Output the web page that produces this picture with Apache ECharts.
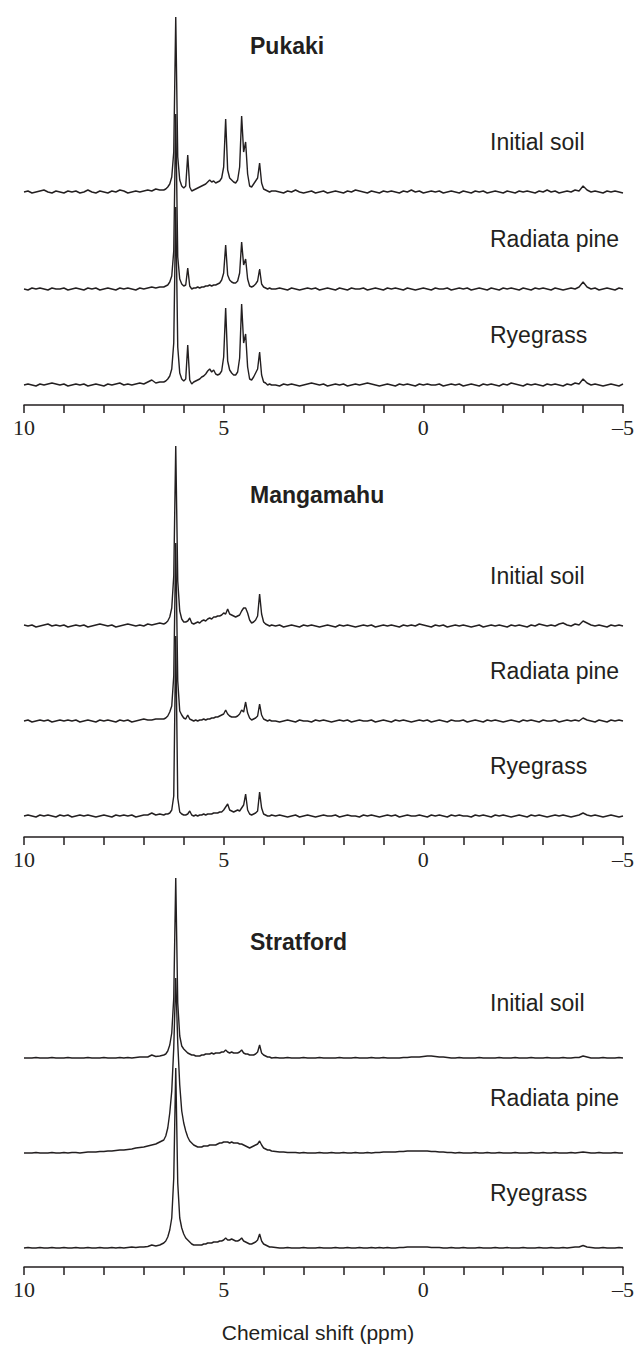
<!DOCTYPE html>
<html><head><meta charset="utf-8">
<script src="https://cdn.jsdelivr.net/npm/echarts@6/dist/echarts.min.js"></script>
<style>html,body{margin:0;padding:0;background:#fff}#c{width:637px;height:1347px}</style>
</head><body><div id="c"></div>
<script>
// ---------------- DATA ----------------
const panelNames = ['Pukaki', 'Mangamahu', 'Stratford'];
const sampleNames = ['Initial soil', 'Radiata pine', 'Ryegrass'];
const xTickLabels = [10, 5, 0, -5];
const axisTitle = 'Chemical shift (ppm)';

// chemical shift sample points (ppm): 10.0-6.6 | 6.5-3.8 | 3.7-(-5.0)
const ppm = [
  10.0,9.9,9.8,9.7,9.6,9.5,9.4,9.3,9.2,9.1, 9.0,8.9,8.8,8.7,8.6,8.5,8.4,8.3,8.2,8.1,
  8.0,7.9,7.8,7.7,7.6,7.5,7.4,7.3,7.2,7.1, 7.0,6.9,6.8,6.7,6.6,

  6.5,6.45,6.4,6.35,6.3,6.25,6.2,6.15,6.1,6.05, 6.0,5.95,5.9,5.85,5.8,5.75,5.7,5.65,5.6,5.55,
  5.5,5.45,5.4,5.35,5.3,5.25,5.2,5.15,5.1,5.05, 5.0,4.95,4.9,4.85,4.8,4.75,4.7,4.65,4.6,4.55,
  4.5,4.45,4.4,4.35,4.3,4.25,4.2,4.15,4.1,4.05, 4.0,3.95,3.9,3.85,3.8,

  3.7,3.6,3.5,3.4,3.3,3.2,3.1,3.0,2.9,2.8, 2.7,2.6,2.5,2.4,2.3,2.2,2.1,2.0,1.9,1.8,
  1.7,1.6,1.5,1.4,1.3,1.2,1.1,1.0,0.9,0.8, 0.7,0.6,0.5,0.4,0.3,0.2,0.1,0.0,-0.1,-0.2,
  -0.3,-0.4,-0.5,-0.6,-0.7,-0.8,-0.9,-1.0,-1.1,-1.2, -1.3,-1.4,-1.5,-1.6,-1.7,-1.8,-1.9,-2.0,-2.1,-2.2,
  -2.3,-2.4,-2.5,-2.6,-2.7,-2.8,-2.9,-3.0,-3.1,-3.2, -3.3,-3.4,-3.5,-3.6,-3.7,-3.8,-3.9,-4.0,-4.1,-4.2,
  -4.3,-4.4,-4.5,-4.6,-4.7,-4.8,-4.9,-5.0
];

// intensities (relative units), same order as ppm
const pukakiInitial = [
  0,1,-1,0,1,2,0,-1,1,0, -1,1,0,1,-1,0,2,0,-1,1, 0,-1,1,0,2,1,-1,0,1,0, 1,2,1,3,2,
  2,3,5,8,15,40,175,35,12,6, 4,6,37,5,1,2,3,4,5,6, 7,8,10,12,10,11,9,10,11,14,
  25,73,22,14,12,10,9,12,25,76, 40,50,18,6,5,8,11,14,29,9, 3,2,1,0,1,
  1,0,-1,1,0,2,0,-1,0,1, -1,0,1,-1,0,1,0,-1,1,0, 2,1,0,-1,1,0,-1,1,0,1, 0,-1,1,0,2,0,1,-1,0,1,
  0,1,-1,0,1,0,-1,1,0,-1, 1,0,1,-1,0,1,0,-1,1,0, -1,1,0,1,0,-1,1,0,2,0, 1,-1,0,1,0,2,1,6,2,0,
  1,0,-1,1,0,1,0,-1
];
const pukakiRadiata = [
  0,-1,1,0,1,0,-1,1,0,0, 1,-1,0,1,0,-1,1,0,1,-1, 0,1,0,-1,1,0,1,0,-1,1, 0,1,2,1,2,
  2,3,4,7,13,38,175,32,10,5, 3,4,21,3,0,1,1,2,1,2, 2,3,3,4,3,4,4,5,6,9,
  16,44,14,9,7,6,6,8,16,47, 24,30,10,3,2,3,5,8,20,5, 2,1,0,1,0,
  0,1,0,-1,1,0,-1,0,1,0, 1,-1,0,1,0,-1,1,0,-1,1, 0,0,1,-1,0,1,0,-1,1,0, 1,0,-1,1,0,-1,0,1,0,-1,
  1,0,0,1,-1,0,1,0,1,-1, 0,1,0,-1,1,0,-1,1,0,1, 0,-1,1,0,-1,1,0,1,0,-1, 1,0,-1,0,1,0,2,7,2,0,
  1,-1,0,1,0,-1,1,0
];
const pukakiRyegrass = [
  0,1,0,-1,1,0,1,2,1,0, 1,-1,0,1,0,1,-1,0,1,0, -1,1,0,1,2,0,1,0,1,2, 1,3,5,2,3,
  3,4,6,9,16,42,178,38,12,6, 4,6,40,5,1,3,4,5,6,8, 9,11,14,16,13,15,11,10,11,14,
  28,77,24,15,12,10,10,13,27,81, 42,51,18,6,5,8,12,16,33,10, 3,2,0,1,0,
  0,-1,1,0,1,0,-1,0,1,2, 1,0,1,-1,0,1,0,1,-1,0, 1,0,1,2,1,0,-1,0,1,0, -1,1,0,1,0,-1,1,0,1,0,
  0,1,-1,0,1,0,1,-1,0,1, 0,-1,1,0,1,0,-1,1,0,2, 1,0,-1,1,0,1,0,-1,1,0, 1,0,-1,1,0,2,1,6,2,0,
  1,0,-1,0,1,0,-1,1
];
const mangamahuInitial = [
  1,0,1,-1,0,1,2,0,1,0, 1,-1,0,1,0,1,-1,0,1,2, 1,0,1,-1,0,1,2,1,0,1, 0,2,1,2,3,
  2,3,5,9,18,50,180,45,15,7, 4,4,5,8,3,2,3,4,3,5, 6,5,7,8,7,9,9,10,10,11,
  13,12,17,12,11,10,9,10,11,15, 18,18,13,6,3,4,6,10,32,12, 4,2,1,0,1,
  0,1,-1,0,1,0,-1,1,0,1, 0,-1,0,1,0,-1,1,0,1,0, -1,0,1,0,1,-1,0,1,0,1, 0,-1,1,0,1,0,2,1,0,-1,
  1,0,1,-1,0,1,0,1,0,-1, 0,1,-1,0,1,0,1,0,-1,1, 0,1,0,-1,1,0,2,1,0,1, 0,2,3,1,0,2,1,5,3,1,
  0,1,0,-1,1,0,1,0
];
const mangamahuRadiata = [
  0,1,-1,0,1,0,1,-1,0,1, 0,1,0,1,-1,0,1,0,-1,1, 0,1,0,-1,1,0,1,-1,0,1, 2,1,1,2,2,
  2,3,5,9,15,45,178,40,10,6, 3,2,6,2,1,0,1,0,1,1, 2,1,2,2,3,3,4,4,5,6,
  7,11,7,5,4,4,4,5,7,11, 9,19,8,3,1,2,3,5,17,6, 2,1,0,1,0,
  0,-1,0,1,0,-1,1,0,0,-1, 1,0,1,0,-1,0,1,0,1,-1, 0,1,0,0,1,-1,0,1,0,-1, 1,0,1,0,-1,0,1,0,1,-1,
  0,1,0,-1,1,0,0,1,-1,0, 1,0,-1,1,0,1,0,-1,0,1, 0,-1,1,0,1,0,-1,1,0,0, 1,-1,0,1,0,1,0,3,1,0,
  -1,1,0,-1,1,0,1,0
];
const mangamahuRyegrass = [
  0,1,0,-1,1,0,1,0,-1,1, 0,1,-1,0,1,0,1,0,-1,0, 1,0,-1,1,0,1,0,1,-1,0, 1,1,3,1,2,
  1,2,2,3,6,20,180,18,4,2, 1,1,2,5,1,0,1,0,1,1, 2,1,2,2,2,3,3,3,4,4,
  6,9,12,6,5,4,5,6,5,8, 11,22,6,2,1,2,3,5,24,8, 2,1,0,0,1,
  0,1,0,-1,0,1,-1,0,1,0, -1,0,1,0,0,1,-1,0,1,0, 0,-1,1,0,1,0,-1,0,1,0, 1,-1,0,1,0,0,1,0,-1,1,
  0,1,0,-1,1,0,1,0,0,-1, 1,0,1,0,-1,1,0,1,0,-1, 0,1,0,-1,1,0,1,0,-1,0, 1,0,1,0,-1,0,1,3,1,0,
  1,0,-1,0,1,0,-1,0
];
const stratfordInitial = [
  0,0,0,0.5,0,0,0,0.5,0,0, 0,0.5,0,0,0,0,0.5,0,0,0, 0.5,0,0,0,0.5,0,0.5,0,0.5,1, 1,1,3,1.5,2,
  3,4,7,13,25,60,180,55,22,12, 9,7,5,4,3,3,2,2,2,3, 3,4,4,4,5,4,5,5,5,6,
  6,8,6,5,6,5,5,5,6,8, 5,4,4,3,3,3,4,6,13,5, 3,2,1,1,0,
  0.5,0,0,0.5,0,0,0,0.5,0,0, 0,0.5,0,0,0,0,0.5,0,0,0, 0.5,0,0,0,0.5,0,0,0.5,0,0, 0,0,0.5,0.5,1,1,1,1.5,2,2,
  1.5,1,1,0.5,0,0,0.5,0,0,0, 0,0.5,0,0,0,0,0.5,0,0,0, 0.5,0,0,0,0.5,0,0,0,0.5,0, 0,0,0.5,0,0,0.5,0.5,2,1,0,
  0,0,0.5,0,0,0,0.5,0
];
const stratfordRadiata = [
  0,0,0,0.5,0,0,0,0.5,0,0, 0.5,0,0.5,0.5,0,0.5,1,1,1,1.5, 1.5,2,2,2.5,3,3,3.5,4,5,5.5, 6,7,8,9,11,
  13,17,25,40,62,105,175,110,68,42, 30,22,16,12,10,8,7,6,6,6, 7,7,7,8,8,8,8,9,10,10,
  11,11,11,10,11,10,10,10,9,9, 8,7,6,5,6,7,8,9,12,8, 5,4,3,3,2,
  1.5,1,1,0.5,0.5,0.5,0,0.5,0,0, 0,0.5,0,0,0.5,0,0,0.5,0,0, 0.5,0,0,0.5,0,0.5,0.5,1,1,1, 1,1.5,1.5,2,2,2,2,2,2,1.5,
  1.5,1,1,0.5,0.5,0,0.5,0,0,0, 0.5,0,0,0.5,0,0,0.5,0,0,0, 0.5,0,0,0,0.5,0,0,0.5,0,0, 0.5,0,0,0,0.5,0,0.5,1,0.5,0,
  0,0.5,0,0,0,0.5,0,0
];
const stratfordRyegrass = [
  0,0.5,0,0,0.5,0,0,0.5,0,0, 0.5,0,0,0.5,0,0,0.5,0,0,0.5, 0,0,0.5,0,0.5,0,0.5,1,0.5,1, 1,1.5,3,2,3,
  5,7,11,18,30,70,180,65,30,20, 14,10,8,6,4,3,3,3,3,3, 4,4,5,5,5,6,6,6,7,7,
  8,10,8,8,9,8,7,7,8,10, 7,6,5,4,4,5,6,8,14,7, 4,3,2,1,1,
  0.5,0,0,0.5,0,0,0,0.5,0,0, 0,0.5,0,0,0,0.5,0,0,0.5,0, 0,0.5,0,0,0.5,0,0.5,0,0.5,0, 0,0.5,0.5,1,1,1,1,1,1,0.5,
  0.5,0.5,0,0,0.5,0,0,0.5,0,0, 0,0.5,0,0,0,0.5,0,0,0.5,0, 0,0,0.5,0,0,0,0.5,0,0,0.5, 0,0,0.5,0,0.5,1,1,2.5,1,0.5,
  0,0,0.5,0,0,0,0.5,0
];

const spectra = [
  [pukakiInitial, pukakiRadiata, pukakiRyegrass],
  [mangamahuInitial, mangamahuRadiata, mangamahuRyegrass],
  [stratfordInitial, stratfordRadiata, stratfordRyegrass]
];

// ---------------- LAYOUT ----------------
const GRID_TOPS = [5, 437, 867];
const GRID_H = 400;
const OFFSETS = [[213, 116, 20], [211, 116, 21], [209, 114, 19]];
const TITLE_Y = [46, 495, 942];
const LABEL_Y = [[142, 239, 335], [576, 671, 766], [1003, 1098, 1193]];
const INK = '#231f20';

const chart = echarts.init(document.getElementById('c'), null, {renderer: 'svg'});

const grids = [], xAxes = [], yAxes = [], series = [], graphics = [];
GRID_TOPS.forEach((top, p) => {
  grids.push({left: 24, right: 11, top: top, height: GRID_H, containLabel: false});
  xAxes.push({
    type: 'value', gridIndex: p, inverse: true, min: -5, max: 10, interval: 1,
    axisLine: {show: true, onZero: false, lineStyle: {color: INK, width: 1.5}},
    axisTick: {show: true, inside: false, length: 8, lineStyle: {color: INK, width: 1.5}},
    splitLine: {show: false},
    axisLabel: {
      margin: 11, color: INK, fontFamily: 'Liberation Serif', fontSize: 22,
      showMinLabel: true, showMaxLabel: true,
      formatter: v => xTickLabels.indexOf(v) >= 0 ? (v < 0 ? '\u2013' + (-v) : String(v)) : ''
    }
  });
  yAxes.push({type: 'value', gridIndex: p, min: 0, max: GRID_H, show: false});
  spectra[p].forEach((vals, s) => {
    series.push({
      type: 'line', xAxisIndex: p, yAxisIndex: p, name: panelNames[p] + ' ' + sampleNames[s],
      showSymbol: false, symbol: 'none', animation: false, clip: false,
      lineStyle: {color: INK, width: 1.4},
      data: ppm.map((x, i) => [x, OFFSETS[p][s] + vals[i]])
    });
    graphics.push({
      type: 'text', x: 490, y: LABEL_Y[p][s],
      style: {text: sampleNames[s], fill: INK, fontFamily: 'Liberation Sans', fontSize: 23, verticalAlign: 'middle', align: 'left'}
    });
  });
  graphics.push({
    type: 'text', x: 250, y: TITLE_Y[p],
    style: {text: panelNames[p], fill: INK, fontFamily: 'Liberation Sans', fontWeight: 'bold', fontSize: 23, verticalAlign: 'middle', align: 'left'}
  });
});
graphics.push({
  type: 'text', x: 318, y: 1332,
  style: {text: axisTitle, fill: INK, fontFamily: 'Liberation Sans', fontSize: 21, verticalAlign: 'middle', align: 'center'}
});

chart.setOption({
  animation: false,
  grid: grids, xAxis: xAxes, yAxis: yAxes, series: series, graphic: graphics
});
</script>
</body></html>
